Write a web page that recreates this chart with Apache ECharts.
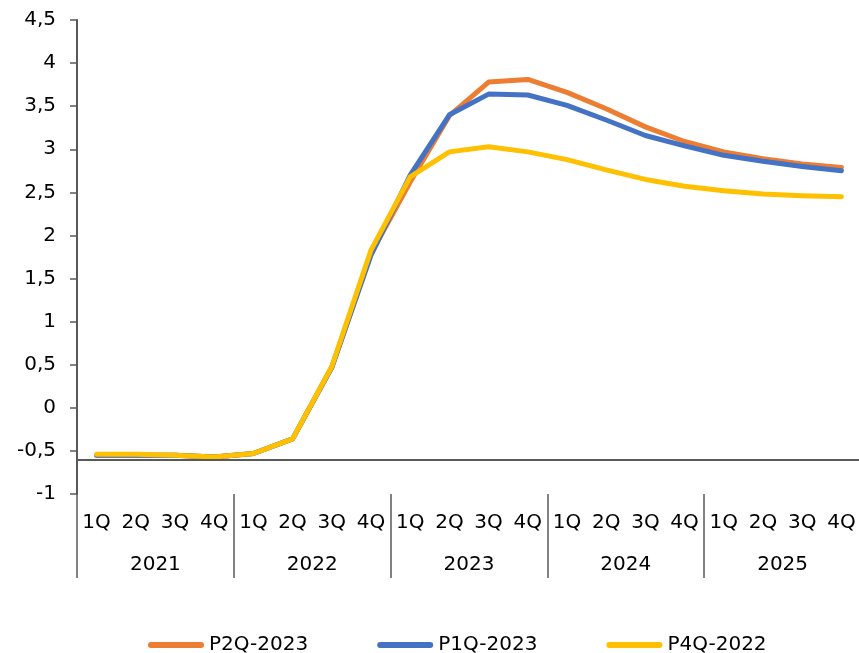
<!DOCTYPE html>
<html>
<head>
<meta charset="utf-8">
<style>
  html, body { margin: 0; padding: 0; background: #fff; }
  #chart { width: 859px; height: 653px; }
</style>
<script src="https://cdn.jsdelivr.net/npm/echarts@6/dist/echarts.min.js"></script>
</head>
<body>
<div id="chart"></div>
<script>
// Quarter labels (inner row) and year labels (outer row)
const quarters = ['1Q','2Q','3Q','4Q','1Q','2Q','3Q','4Q','1Q','2Q','3Q','4Q','1Q','2Q','3Q','4Q','1Q','2Q','3Q','4Q'];
const years = ['2021', '2022', '2023', '2024', '2025'];

// Projection vintages
const p2q2023 = [-0.55, -0.55, -0.55, -0.57, -0.53, -0.36, 0.47, 1.79, 2.62, 3.39, 3.78, 3.81, 3.66, 3.47, 3.26, 3.09, 2.97, 2.89, 2.83, 2.79];
const p1q2023 = [-0.55, -0.55, -0.55, -0.57, -0.53, -0.36, 0.47, 1.77, 2.70, 3.40, 3.64, 3.63, 3.51, 3.34, 3.16, 3.04, 2.93, 2.86, 2.80, 2.75];
const p4q2022 = [-0.54, -0.54, -0.55, -0.57, -0.53, -0.36, 0.48, 1.83, 2.68, 2.97, 3.03, 2.97, 2.88, 2.76, 2.65, 2.57, 2.52, 2.48, 2.46, 2.45];

// Value-axis ticks and the level where the horizontal axis crosses
const yMin = -1, yMax = 4.5, yStep = 0.5;
const axisCrossValue = -0.6;

const FONT = '"DejaVu Sans", Verdana, sans-serif';
const AXIS_GRAY = '#595959';

const chart = echarts.init(document.getElementById('chart'), null, { renderer: 'canvas' });

function lineSeries(name, data, color, extra) {
  return Object.assign({
    name: name,
    type: 'line',
    data: data,
    xAxisIndex: 0,
    showSymbol: false,
    symbol: 'none',
    smooth: false,
    itemStyle: { color: color },
    lineStyle: { color: color, width: 5, cap: 'round', join: 'round' },
    emphasis: { disabled: true }
  }, extra || {});
}

chart.setOption({
  animation: false,
  backgroundColor: '#ffffff',
  textStyle: { fontFamily: FONT },
  grid: { left: 77, right: -2, top: 20, bottom: 159, containLabel: false, outerBoundsMode: 'none' },
  legend: {
    left: 143,
    top: 630,
    itemWidth: 56,
    itemHeight: 6,
    itemGap: 69,
    icon: 'path://M3,0 H53 A3,3 0 0 1 53,6 H3 A3,3 0 0 1 3,0 Z',
    textStyle: { fontFamily: FONT, fontSize: 20, color: '#000', width: 105 },
    data: ['P2Q-2023', 'P1Q-2023', 'P4Q-2022']
  },
  xAxis: [
    {
      type: 'category',
      data: quarters,
      position: 'bottom',
      boundaryGap: true,
      axisLine: { show: false, onZero: false },
      axisTick: {
        show: true,
        length: 84,
        interval: function (index) { return index % 4 === 0; },
        lineStyle: { color: AXIS_GRAY, width: 1.5 }
      },
      axisLabel: { interval: 0, margin: 19, fontFamily: FONT, fontSize: 20, color: '#000' },
      splitLine: { show: false }
    },
    {
      type: 'category',
      data: years,
      position: 'bottom',
      boundaryGap: true,
      axisLine: { show: false, onZero: false },
      axisTick: { show: false },
      axisLabel: { interval: 0, margin: 61, fontFamily: FONT, fontSize: 20, color: '#000' },
      splitLine: { show: false }
    }
  ],
  yAxis: {
    type: 'value',
    min: yMin,
    max: yMax,
    interval: yStep,
    axisLine: { show: true, lineStyle: { color: AXIS_GRAY, width: 2 } },
    axisTick: { show: true, length: 7, lineStyle: { color: AXIS_GRAY, width: 1.5 } },
    axisLabel: {
      margin: 21,
      fontFamily: FONT,
      fontSize: 20,
      color: '#000',
      formatter: function (v) { return String(v).replace('.', ','); }
    },
    splitLine: { show: false }
  },
  series: [
    lineSeries('P2Q-2023', p2q2023, '#ED7D31', {
      markLine: {
        silent: true,
        symbol: 'none',
        label: { show: false },
        emphasis: { disabled: true },
        lineStyle: { color: AXIS_GRAY, width: 2, type: 'solid' },
        data: [{ yAxis: axisCrossValue }]
      },
      z: 2
    }),
    lineSeries('P1Q-2023', p1q2023, '#4472C4', { z: 3 }),
    lineSeries('P4Q-2022', p4q2022, '#FFC000', { z: 4 })
  ]
});
</script>
</body>
</html>
